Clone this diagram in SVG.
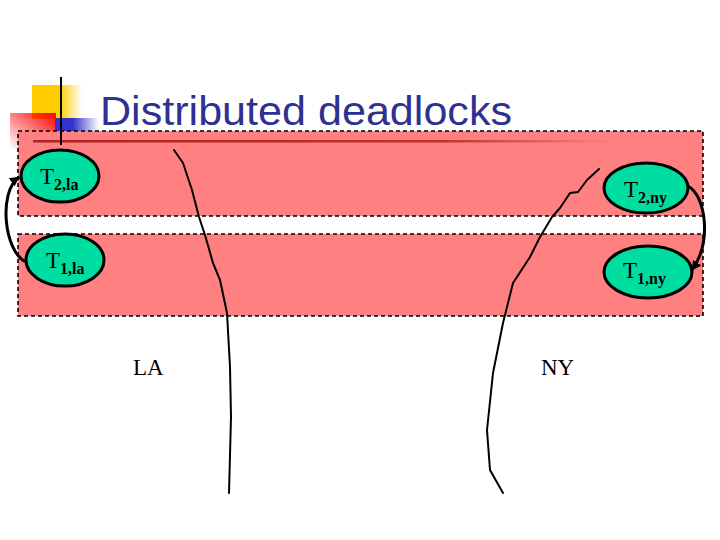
<svg xmlns="http://www.w3.org/2000/svg" width="720" height="540" viewBox="0 0 720 540">
  <style>
    .band { fill: #FF8080; stroke: #000; stroke-width: 1.6; stroke-dasharray: 4 3; }
    .node { fill: #00DDA0; stroke: #000; stroke-width: 3; }
    .t { font-family: "Liberation Serif", "Times New Roman", serif; font-size: 23px; fill: #000; }
    .sub { font-size: 16px; font-weight: bold; }
    .edge { fill: none; stroke: #000; stroke-width: 3; }
    .border { fill: none; stroke: #000; stroke-width: 2; stroke-linejoin: round; stroke-linecap: round; }
    .site { font-family: "Liberation Serif", "Times New Roman", serif; font-size: 23px; fill: #000; }
  </style>
  <defs>
    <linearGradient id="gy" x1="0" y1="0" x2="1" y2="0">
      <stop offset="0" stop-color="#FFCC00"/>
      <stop offset="0.55" stop-color="#FFCC00"/>
      <stop offset="1" stop-color="#FFCC00" stop-opacity="0"/>
    </linearGradient>
    <linearGradient id="gr" x1="1" y1="0" x2="0" y2="1">
      <stop offset="0" stop-color="#FF0000"/>
      <stop offset="1" stop-color="#FF0000" stop-opacity="0"/>
    </linearGradient>
    <linearGradient id="gb" x1="0" y1="0" x2="1" y2="0">
      <stop offset="0" stop-color="#3333CC"/>
      <stop offset="0.4" stop-color="#3333CC"/>
      <stop offset="1" stop-color="#3333CC" stop-opacity="0"/>
    </linearGradient>
    <linearGradient id="gl" x1="0" y1="0" x2="1" y2="0">
      <stop offset="0" stop-color="#B02020"/>
      <stop offset="0.7" stop-color="#C03030"/>
      <stop offset="1" stop-color="#C03030" stop-opacity="0"/>
    </linearGradient>
    <marker id="ah" markerUnits="userSpaceOnUse" markerWidth="10" markerHeight="10" viewBox="0 0 10 10" refX="9" refY="5" orient="auto">
      <path d="M0,0 L10,5 L0,10 z" fill="#000"/>
    </marker>
  </defs>

  <g id="title-deco">
    <rect x="32" y="85" width="50" height="34" fill="url(#gy)"/>
    <rect x="10" y="113" width="46" height="36" fill="url(#gr)"/>
    <rect x="55" y="118" width="44" height="15" fill="url(#gb)"/>
  </g>
  <text x="100" y="125" font-family="'Liberation Sans', Arial, sans-serif" font-size="40" fill="#2E3192" textLength="412" lengthAdjust="spacingAndGlyphs">Distributed deadlocks</text>

  <g id="bands">
    <rect class="band" x="18" y="131" width="685" height="85"/>
    <rect class="band" x="18" y="234" width="685" height="82"/>
  </g>
  <rect x="33" y="140" width="580" height="2.5" fill="url(#gl)"/>
  <line x1="61" y1="77" x2="61" y2="145" stroke="#000" stroke-width="2"/>

  <g id="site-borders">
    <path class="border" d="M174,150 L183,163 L192,190 L199,217 L205,235 L213,263 L220,280 L227,313 L230,367 L231,417 L229,493"/>
    <path class="border" d="M599,169 L587,180 L578,192 L570,193 L560,208 L552,217 L540,237 L530,257 L513,283 L503,323 L493,373 L487,430 L490,470 L503,493"/>
  </g>

  <g id="connectors">
    <path class="edge" d="M26,262 C4,252 -2,192 19,177" marker-end="url(#ah)"/>
    <path class="edge" d="M688,186 C706,196 712,242 692,270" marker-end="url(#ah)"/>
  </g>

  <g id="T2la">
    <ellipse class="node" cx="60" cy="176" rx="39" ry="26"/>
    <text class="t" x="40" y="184">T<tspan class="sub" dy="6">2,la</tspan></text>
  </g>
  <g id="T1la">
    <ellipse class="node" cx="65" cy="260" rx="39" ry="26"/>
    <text class="t" x="46" y="268">T<tspan class="sub" dy="6">1,la</tspan></text>
  </g>
  <g id="T2ny">
    <ellipse class="node" cx="646" cy="188" rx="42" ry="25"/>
    <text class="t" x="624" y="197">T<tspan class="sub" dy="6">2,ny</tspan></text>
  </g>
  <g id="T1ny">
    <ellipse class="node" cx="648" cy="272" rx="44" ry="26"/>
    <text class="t" x="623" y="278">T<tspan class="sub" dy="6">1,ny</tspan></text>
  </g>

  <g id="LA"><text class="site" x="133" y="375">LA</text></g>
  <g id="NY"><text class="site" x="541" y="375">NY</text></g>
</svg>
